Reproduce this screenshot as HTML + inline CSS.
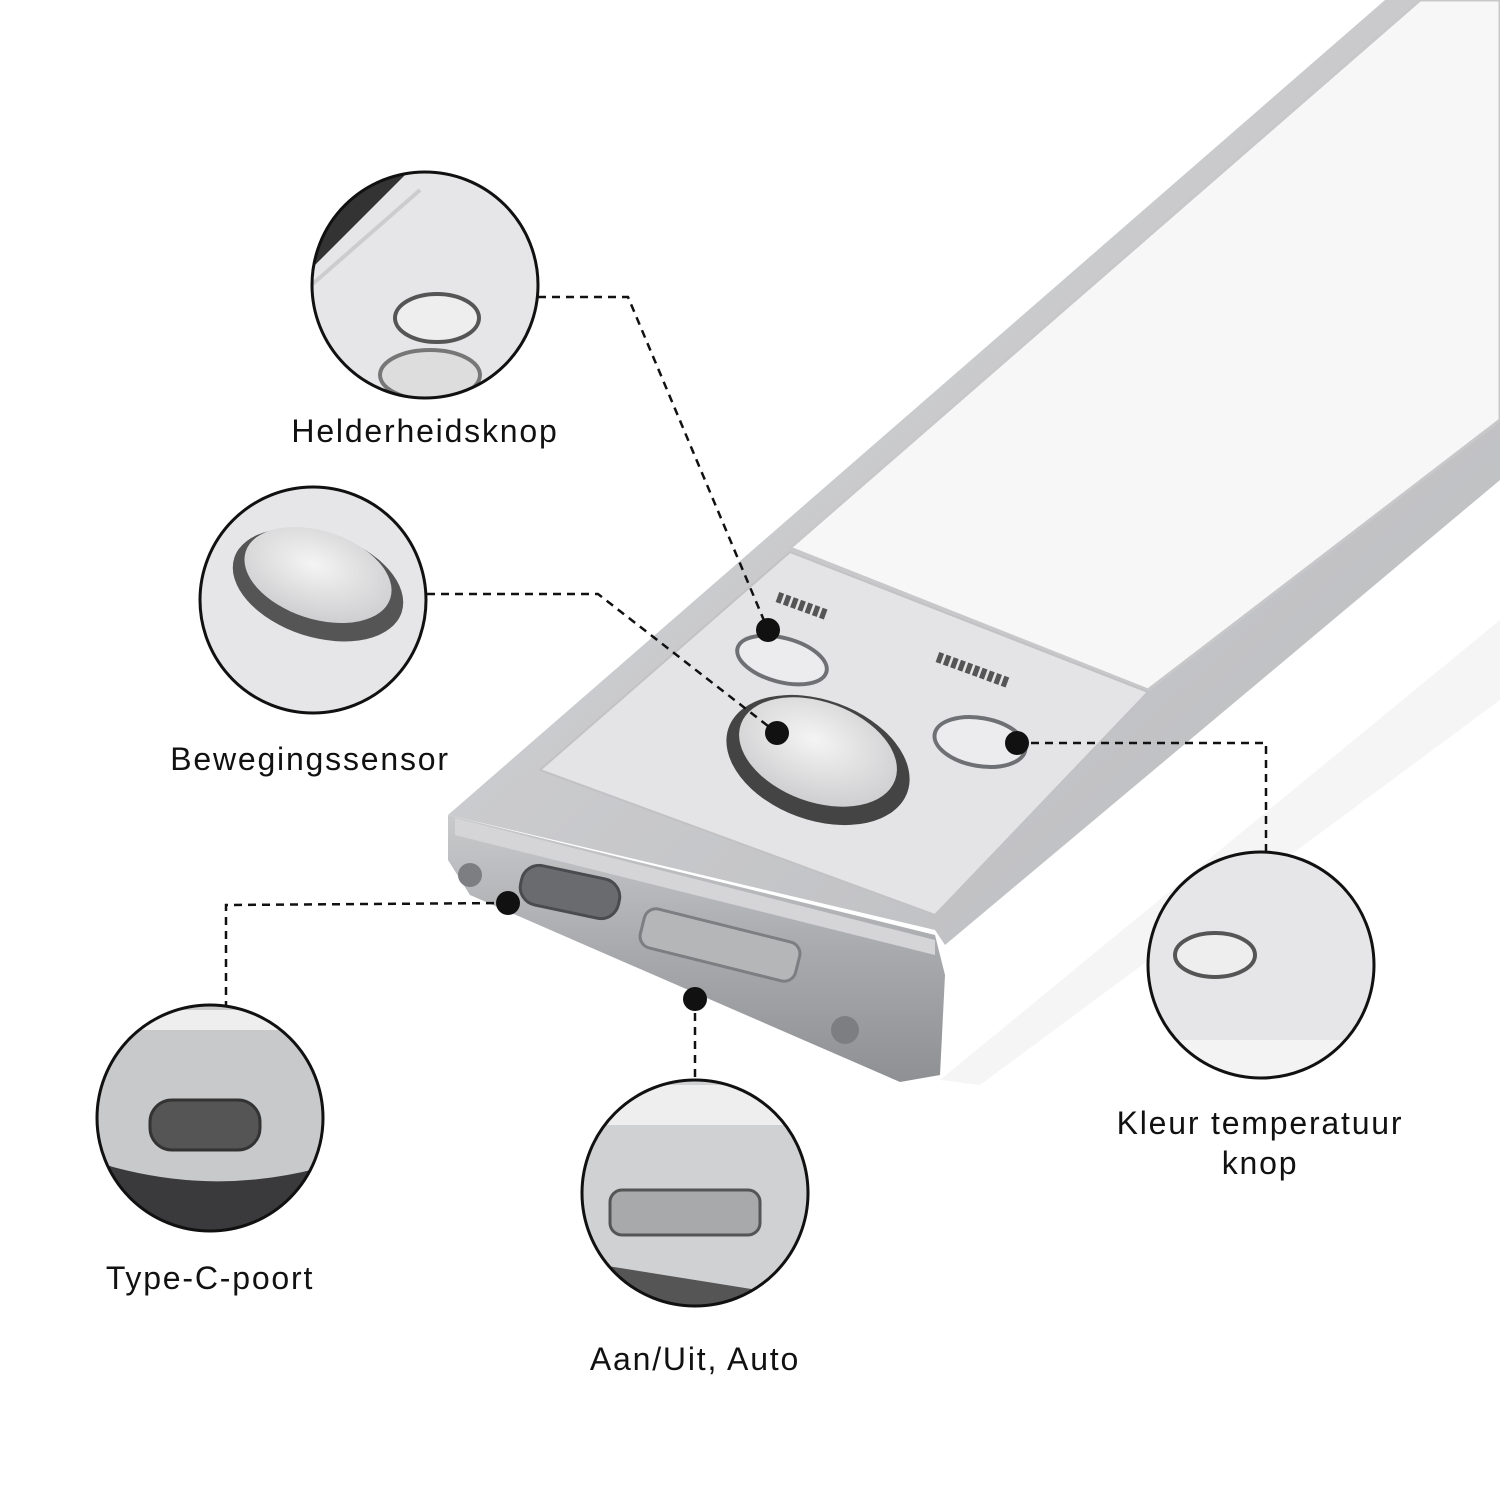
<!DOCTYPE html>
<html><head><meta charset="utf-8"><style>
html,body{margin:0;padding:0;background:#fff;}
svg{display:block}
text{font-family:"Liberation Sans",sans-serif;font-size:32px;fill:#111;letter-spacing:1.8px}
</style></head><body>
<svg width="1500" height="1500" viewBox="0 0 1500 1500" xmlns="http://www.w3.org/2000/svg">
<defs>
<linearGradient id="rim" x1="0" y1="0" x2="1" y2="1"><stop offset="0" stop-color="#d8d8da"/><stop offset="1" stop-color="#b9babd"/></linearGradient>
<linearGradient id="endf" x1="0" y1="0" x2="0" y2="1"><stop offset="0" stop-color="#c9cacc"/><stop offset="0.5" stop-color="#a9aaad"/><stop offset="1" stop-color="#8f9093"/></linearGradient>
<radialGradient id="pir" cx="0.45" cy="0.4" r="0.6"><stop offset="0" stop-color="#f4f4f4"/><stop offset="1" stop-color="#cfcfd1"/></radialGradient>
<clipPath id="c1"><circle cx="425" cy="285" r="112"/></clipPath>
<clipPath id="c2"><circle cx="313" cy="600" r="112"/></clipPath>
<clipPath id="c3"><circle cx="210" cy="1118" r="112"/></clipPath>
<clipPath id="c4"><circle cx="695" cy="1193" r="112"/></clipPath>
<clipPath id="c5"><circle cx="1261" cy="965" r="112"/></clipPath>
</defs>
<!-- shadow -->
<polygon points="940,1080 1500,620 1500,700 980,1085" fill="#f5f5f5"/>
<!-- bar top rim -->
<polygon points="448,815 1385,0 1500,0 1500,480 945,945 935,930" fill="url(#rim)"/>
<!-- white diffuser -->
<polygon points="790,548 1420,0 1500,0 1500,420 1148,690" fill="#f7f7f7" stroke="#c8c8ca" stroke-width="3"/>
<!-- control panel -->
<polygon points="540,770 790,552 1148,692 935,915" fill="#e4e4e6" stroke="#c2c2c4" stroke-width="2"/>
<!-- front end face -->
<polygon points="448,815 935,935 945,975 940,1075 900,1082 470,895 448,860" fill="url(#endf)"/>
<polygon points="455,818 935,940 935,955 455,835" fill="#d5d5d7"/>
<rect x="520" y="872" width="100" height="40" rx="18" fill="#6a6b6e" stroke="#4a4b4e" stroke-width="3" transform="rotate(12 570 892)"/>
<rect x="640" y="925" width="160" height="40" rx="12" fill="#b5b6b8" stroke="#7d7e81" stroke-width="3" transform="rotate(14 720 945)"/>
<circle cx="470" cy="875" r="12" fill="#7d7e81"/><circle cx="845" cy="1030" r="14" fill="#7d7e81"/>
<ellipse cx="782" cy="660" rx="46" ry="22" fill="#ececee" stroke="#6f7073" stroke-width="4" transform="rotate(15 782 660)"/>
<ellipse cx="980" cy="742" rx="46" ry="24" fill="#ececee" stroke="#6f7073" stroke-width="4" transform="rotate(10 980 742)"/>
<ellipse cx="818" cy="760" rx="95" ry="60" fill="#444" transform="rotate(20 818 760)"/>
<ellipse cx="818" cy="752" rx="82" ry="50" fill="url(#pir)" transform="rotate(20 818 752)"/>
<text x="775" y="600" transform="rotate(20 775 600)" style="font-size:14px;fill:#555;letter-spacing:0">▮▮▮▮▮▮▮</text>
<text x="935" y="660" transform="rotate(20 935 660)" style="font-size:14px;fill:#555;letter-spacing:0">▮▮▮▮▮▮▮▮▮▮</text>

<g fill="none" stroke="#111" stroke-width="2.5" stroke-dasharray="8,6">
<polyline points="538,297 628,297 768,630"/>
<polyline points="427,594 598,594 777,733"/>
<polyline points="1017,743 1266,743 1266,852"/>
<polyline points="508,903 226,905 226,1005"/>
<polyline points="695,999 695,1078"/>
</g>
<g fill="#111">
<circle cx="768" cy="630" r="12"/><circle cx="777" cy="733" r="12"/><circle cx="1017" cy="743" r="12"/><circle cx="508" cy="903" r="12"/><circle cx="695" cy="999" r="12"/>
</g>

<circle cx="425" cy="285" r="113" fill="#e6e6e8"/>
<circle cx="313" cy="600" r="113" fill="#e6e6e8"/>
<circle cx="210" cy="1118" r="113" fill="#c8c9cb"/>
<circle cx="695" cy="1193" r="113" fill="#d0d1d3"/>
<circle cx="1261" cy="965" r="113" fill="#e6e6e8"/>
<g clip-path="url(#c1)">
<path d="M300,280 L410,170 L300,170 Z" fill="#333"/>
<path d="M300,295 L420,190" stroke="#ccc" stroke-width="4"/>
<ellipse cx="437" cy="318" rx="42" ry="24" fill="#eee" stroke="#555" stroke-width="4"/>
<ellipse cx="430" cy="375" rx="50" ry="25" fill="#ddd" stroke="#777" stroke-width="4"/>
</g>
<g clip-path="url(#c2)">
<ellipse cx="318" cy="585" rx="88" ry="52" fill="#555" transform="rotate(18 318 585)"/>
<ellipse cx="318" cy="575" rx="76" ry="44" fill="url(#pir)" transform="rotate(18 318 575)"/>
</g>
<g clip-path="url(#c3)">
<rect x="90" y="1010" width="240" height="20" fill="#eee"/>
<path d="M90,1160 Q210,1200 330,1165 L330,1240 L90,1240 Z" fill="#3a3a3c"/>
<rect x="150" y="1100" width="110" height="50" rx="22" fill="#555" stroke="#333" stroke-width="3"/>
</g>
<g clip-path="url(#c4)">
<rect x="570" y="1085" width="250" height="40" fill="#eee"/>
<rect x="610" y="1190" width="150" height="45" rx="12" fill="#a8a9ab" stroke="#555" stroke-width="3"/>
<path d="M570,1260 L820,1300 L820,1310 L570,1310 Z" fill="#555"/>
</g>
<g clip-path="url(#c5)">
<ellipse cx="1215" cy="955" rx="40" ry="22" fill="#eee" stroke="#555" stroke-width="4"/>
<rect x="1140" y="1040" width="240" height="40" fill="#f3f3f3"/>
</g>
<g fill="none" stroke="#111" stroke-width="3">
<circle cx="425" cy="285" r="113"/>
<circle cx="313" cy="600" r="113"/>
<circle cx="210" cy="1118" r="113"/>
<circle cx="695" cy="1193" r="113"/>
<circle cx="1261" cy="965" r="113"/>
</g>

<text x="425" y="442" text-anchor="middle">Helderheidsknop</text>
<text x="310" y="770" text-anchor="middle">Bewegingssensor</text>
<text x="210" y="1289" text-anchor="middle">Type-C-poort</text>
<text x="695" y="1370" text-anchor="middle">Aan/Uit, Auto</text>
<text x="1260" y="1134" text-anchor="middle">Kleur temperatuur</text>
<text x="1260" y="1174" text-anchor="middle">knop</text>
</svg>
</body></html>
